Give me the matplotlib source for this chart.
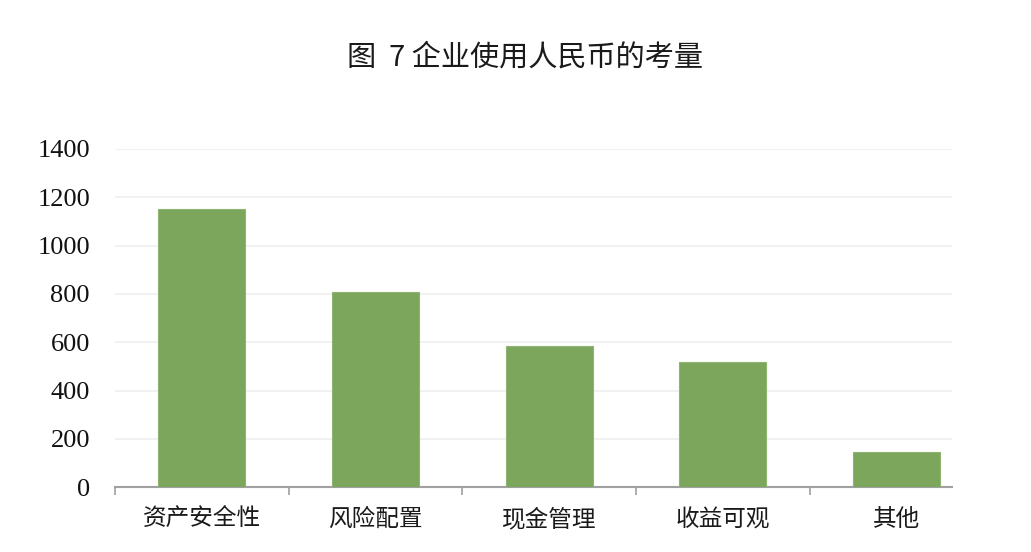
import numpy as np
import matplotlib
matplotlib.use('Agg')
import matplotlib.pyplot as plt

categories = ['资产安全性', '风险配置', '现金管理', '收益可观', '其他']
values = [1150, 810, 585, 517, 145]
yticks = [0, 200, 400, 600, 800, 1000, 1200, 1400]
title = '图  7 企业使用人民币的考量'

plt.rcParams['font.family'] = ['Noto Sans CJK SC', 'DejaVu Sans']

fig = plt.figure(figsize=(10.31, 5.52), dpi=100)
ax = fig.add_axes([0.1115, 0.1172, 0.812, 0.613])

x = np.arange(len(categories))
ax.bar(x, values, width=0.5, color='#7ba65c', edgecolor='#8fb472', linewidth=0.8, zorder=3)

ax.set_ylim(0, 1400)
ax.set_xlim(-0.5, 4.32)
ax.set_yticks(yticks)
ax.set_yticklabels([str(v) for v in yticks], family='Liberation Serif',
                   fontsize=19, color='#111111')
ax.yaxis.grid(True, color='#efefef', linewidth=1.2, zorder=0)
ax.tick_params(axis='y', length=0, pad=18)

# category ticks sit at the boundaries, labels at the centres
ax.set_xticks(np.arange(-0.5, 4.5, 1.0))
ax.set_xticklabels([])
ax.set_xticks(x, minor=True)
ax.set_xticklabels(categories, minor=True, fontsize=17, color='#1a1a1a')
ax.tick_params(axis='x', which='major', length=6, color='#a0a0a0', width=1.2)
ax.tick_params(axis='x', which='minor', length=0, pad=15)

for s in ['top', 'right', 'left']:
    ax.spines[s].set_visible(False)
ax.spines['bottom'].set_color('#a0a0a0')
ax.spines['bottom'].set_linewidth(1.5)

fig.text(0.509, 0.895, title, ha='center', va='center', fontsize=21, color='#1a1a1a')

fig.savefig('out.png', dpi=100)
